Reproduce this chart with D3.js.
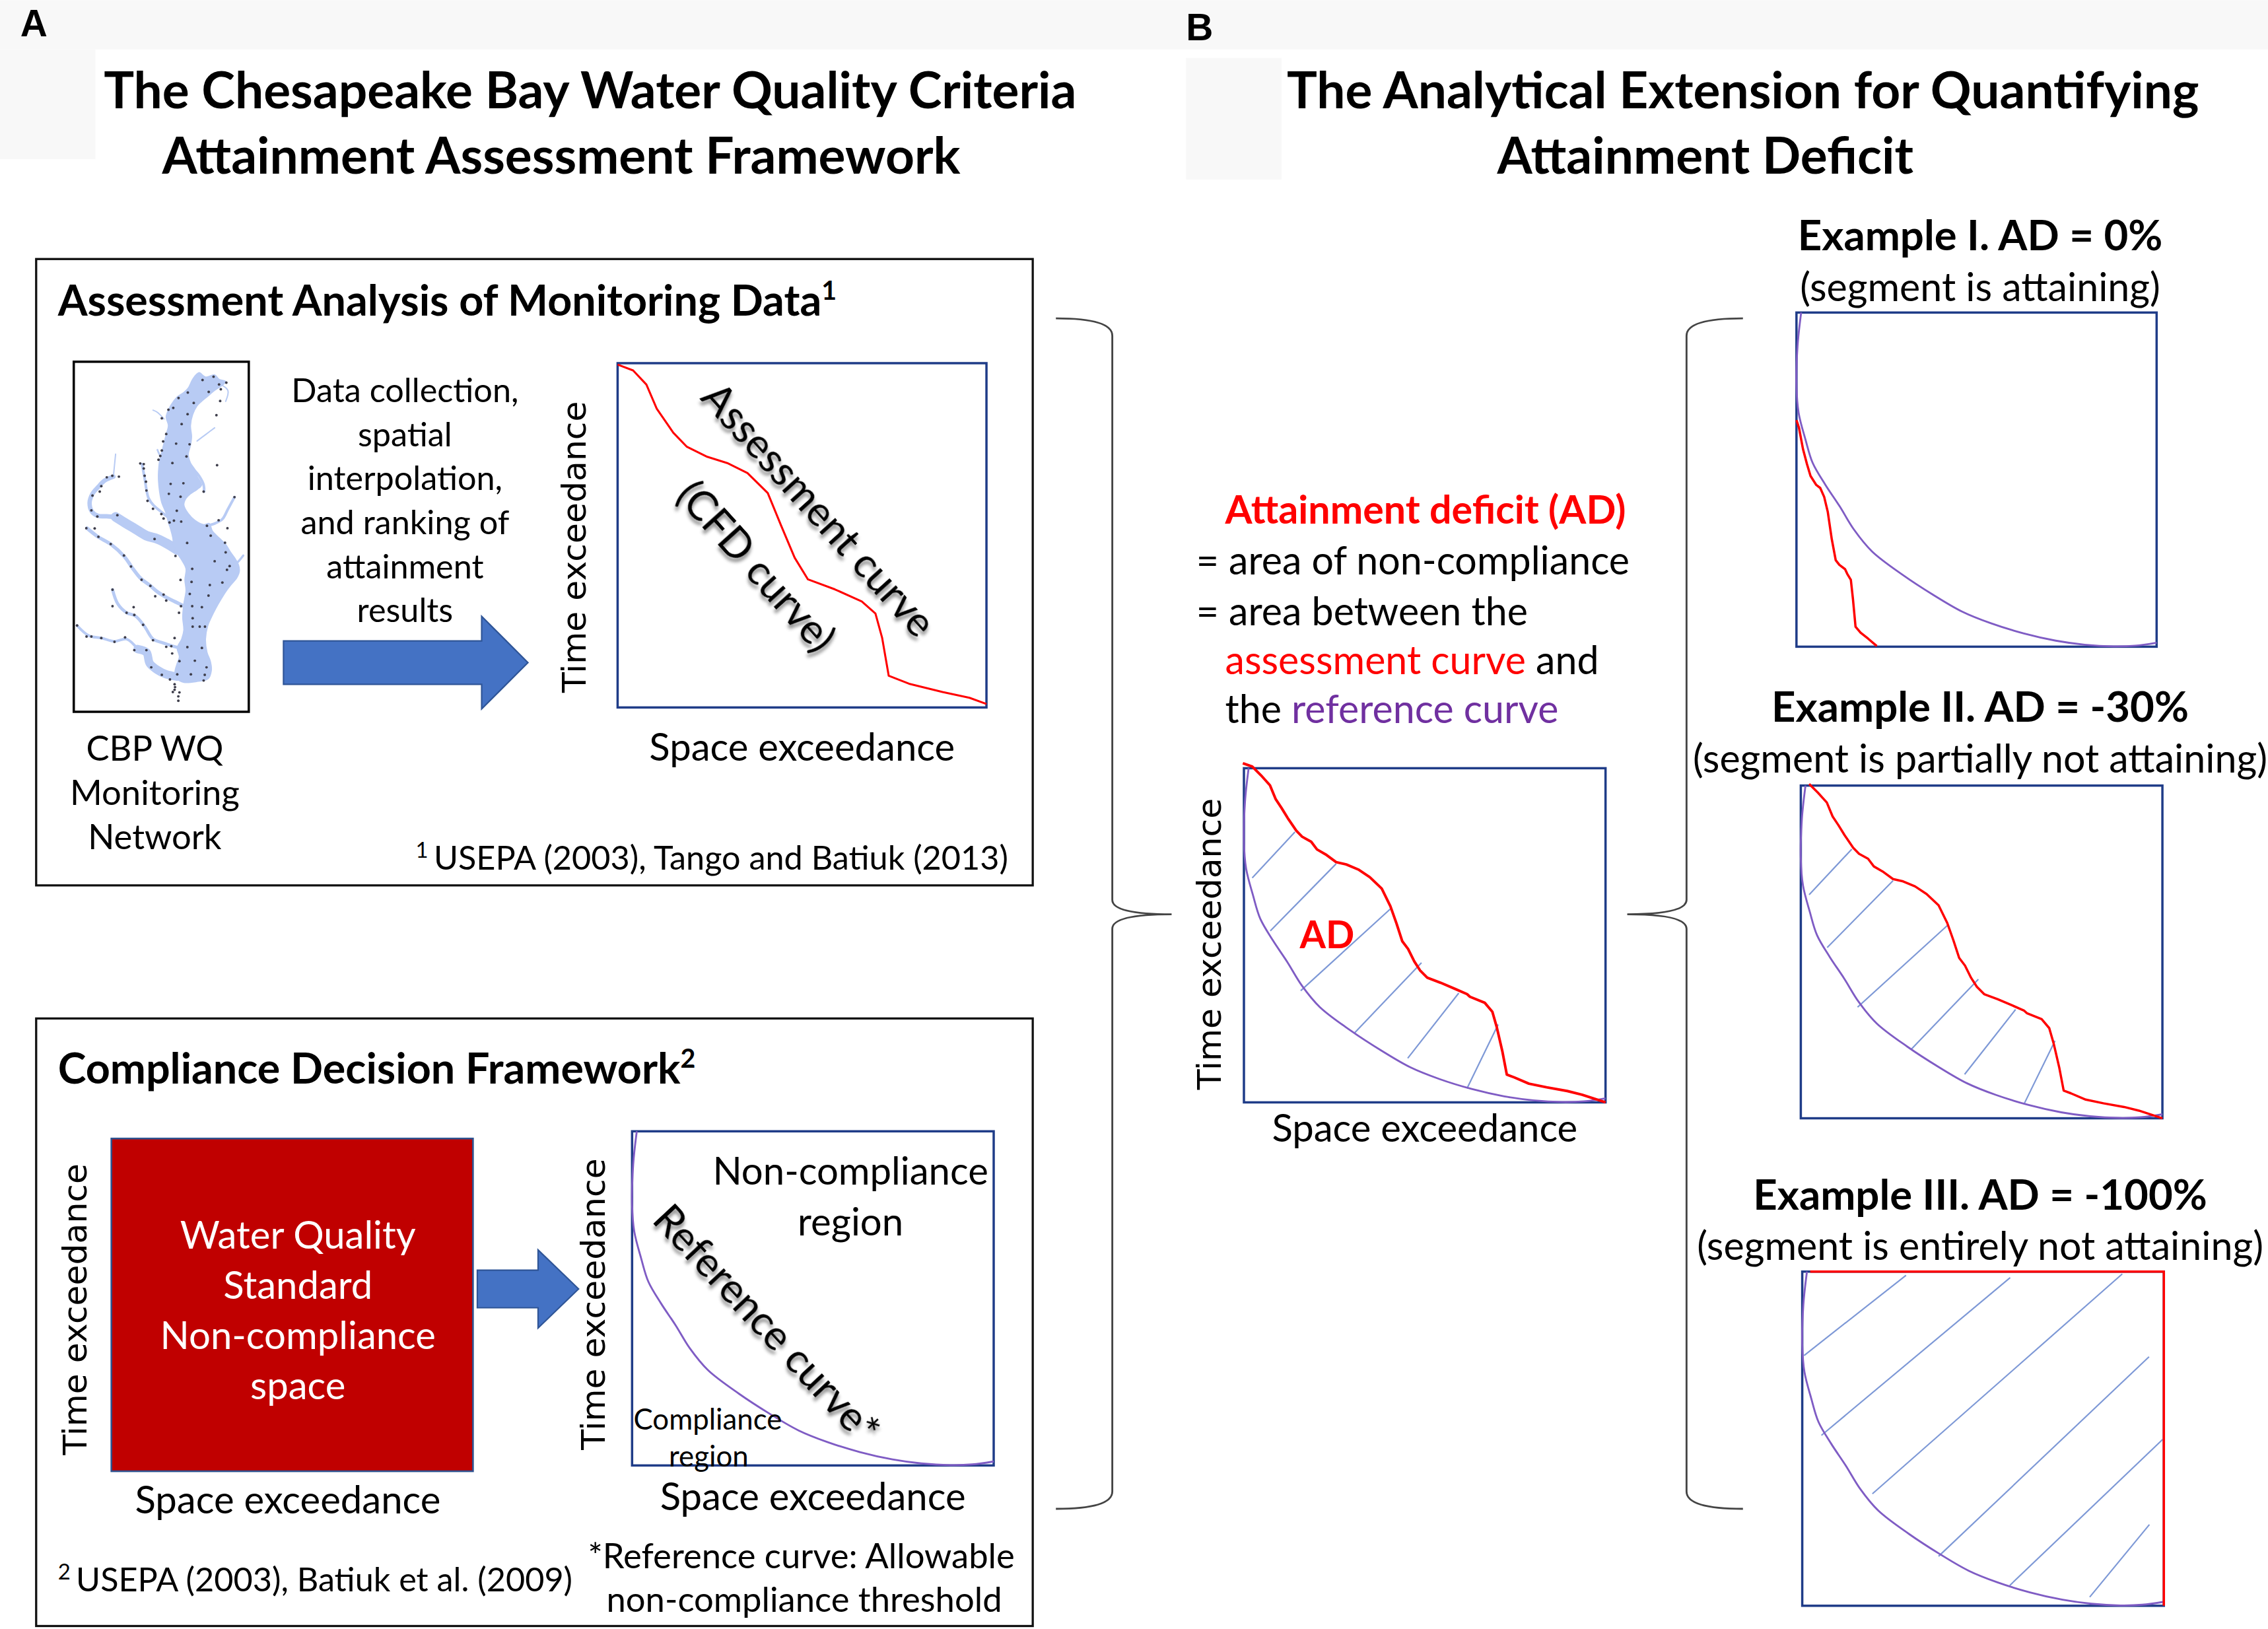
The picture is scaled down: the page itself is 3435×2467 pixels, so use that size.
<!DOCTYPE html>
<html>
<head>
<meta charset="utf-8">
<script src="https://cdn.jsdelivr.net/npm/d3@7"></script>
<style>
  body { margin: 0; background: #fff; }
  svg { display: block; }
  .cal { font-family: Lato, "Open Sans", sans-serif; }
  .axl { font-family: "DejaVu Sans", sans-serif; }
</style>
</head>
<body>
<script>
// ---- curve data (space exceedance %, time exceedance %) ----
const refSpace = [1.3, 0.3, 0, 0.6, 2.5, 4.5, 8, 12, 16, 21, 29.5, 38, 46, 54, 63, 72, 80, 88, 94, 100];
const refTime  = [100, 90, 78, 70, 62, 55, 48.5, 42, 35, 28.5, 21.5, 15.5, 10.5, 7, 4, 1.8, 0.6, 0.1, 0.3, 1.2];

const assessSpace = [0, 4.2, 7.8, 10.6, 15.1, 18.8, 24.3, 29.7, 35.2, 40.7, 44.3, 48, 51.6, 58.9, 66.2, 69.9, 71.7, 73.5, 79, 88.1, 95.4, 100];
const assessTime  = [99.6, 97.9, 93.8, 86.8, 79.8, 75.7, 72.8, 71, 68.1, 62.3, 52.9, 43.5, 37.2, 34.3, 30.8, 27.3, 20.3, 9.2, 6.9, 4.5, 2.8, 1];

const adSpace = [-0.3, 2.3, 4.7, 7.2, 8.8, 10.4, 12.1, 14.5, 16.1, 18.6, 20.2, 22.6, 25.5, 28.3, 31.6, 34.8, 38.1, 40.5, 42.2, 43.8, 45.4, 47.1, 48.7, 50.7, 54.4, 58.5, 61.7, 62.5, 66.6, 68.7, 69.9, 71.5, 72.7, 74.7, 78.8, 83.7, 89.4, 93.5, 100];
const adTime  = [101.5, 100.5, 97.9, 94.9, 90.7, 88.1, 85.1, 81.3, 79.5, 78, 75.7, 74.2, 71.9, 71.2, 69.7, 67.4, 64, 58.7, 53.5, 48.2, 45.9, 42.2, 39.5, 37.3, 35.8, 33.9, 32.4, 31.6, 29.8, 27.1, 22.6, 15.1, 8.3, 7.5, 5.6, 4.5, 3.4, 2.3, 0];

const ex1Space = [0, 0.7, 1.8, 2.9, 3.9, 5.5, 6.6, 7.7, 8.7, 9.8, 10.9, 11.9, 13.5, 14.1, 15.1, 15.7, 16.4, 17.8, 19.9, 22.3];
const ex1Time  = [67.8, 65.5, 59.2, 54.7, 51.1, 48.4, 47.5, 44.8, 40.3, 32.2, 25.9, 24.5, 23.2, 21.8, 20, 14.1, 6, 4.2, 2.4, 0.2];

const ex3Space = [2.2, 100, 100];
const ex3Time  = [100, 100, 0];

// hatch segments [space1, time1, space2, time2]
const hatchPartial = [[2.3, 67.2, 14.1, 80.9], [7.3, 51.3, 25.5, 71.4], [15.7, 33.4, 40.6, 58], [30.6, 20.8, 49.1, 41.8], [45.3, 13.2, 59.4, 32.7], [61.7, 4.2, 70.3, 23.3]];
const hatchFull = [[0.5, 74.9, 28.7, 98.9], [5.3, 51, 57.5, 98.2], [19.4, 33.5, 88.5, 99.3], [37.7, 14.8, 95.9, 74.5], [57.4, 6.1, 99.7, 49.8], [79.5, 2.6, 96, 24.3]];

// ---- monitoring network map (map units: 795 x 1590 sketch grid) ----
const bayOutline = [[570,50],[600,70],[640,60],[660,80],[690,90],[670,110],[640,130],[610,155],[580,180],[560,200],[540,240],[530,290],[535,340],[530,380],[520,420],[530,460],[550,490],[560,520],[580,560],[560,580],[530,600],[510,620],[500,650],[520,690],[550,720],[590,740],[615,735],[630,770],[660,800],[690,830],[712,865],[732,893],[748,922],[752,952],[740,982],[715,1012],[690,1045],[665,1085],[645,1120],[625,1160],[608,1200],[598,1260],[605,1320],[620,1360],[625,1400],[610,1440],[560,1452],[500,1456],[470,1440],[460,1410],[470,1370],[480,1340],[470,1300],[490,1260],[500,1220],[495,1160],[500,1100],[510,1040],[505,990],[510,940],[490,900],[470,870],[455,840],[450,800],[440,760],[430,730],[420,690],[400,640],[390,590],[385,540],[385,500],[390,450],[400,410],[410,370],[420,330],[430,290],[420,250],[440,200],[470,160],[500,140],[520,120],[540,80],[560,55]];
const rivers = [
  { w: 44, pts: [[470,855],[430,830],[380,805],[330,790],[280,760],[230,730],[190,705]] },
  { w: 20, pts: [[190,705],[150,702],[110,700],[82,680],[72,640],[85,600],[110,570],[140,540],[180,522]] },
  { w: 6,  pts: [[180,522],[185,470],[190,420]] },
  { w: 12, pts: [[450,725],[420,700],[395,680],[365,655],[340,620],[330,580],[322,530],[310,465]] },
  { w: 16, pts: [[500,1110],[460,1090],[420,1070],[380,1045],[345,1015],[305,985],[265,935],[230,885],[170,830],[110,795],[60,756]] },
  { w: 14, pts: [[480,1300],[445,1290],[400,1275],[360,1260],[320,1200],[280,1155],[240,1140],[200,1100],[176,1035]] },
  { w: 38, pts: [[470,1430],[420,1420],[380,1400],[345,1370],[330,1320],[290,1305]] },
  { w: 12, pts: [[290,1305],[240,1260],[185,1270],[125,1255],[70,1245],[15,1198]] },
  { w: 12, pts: [[545,490],[570,520],[590,560],[592,590]] },
  { w: 12, pts: [[620,790],[605,750],[640,735],[675,715],[700,670],[730,615]] },
  { w: 10, pts: [[720,930],[745,910],[770,880]] },
  { w: 6,  pts: [[660,100],[700,130],[690,180]] },
  { w: 8,  pts: [[420,450],[395,430],[380,400]] },
  { w: 6,  pts: [[410,260],[380,230],[360,220]] },
  { w: 6,  pts: [[560,360],[600,330],[640,300]] }
];
const stations = [[585,83],[635,68],[660,103],[693,95],[668,125],[665,178],[613,137],[518,140],[476,165],[545,187],[430,218],[452,210],[517,238],[400,257],[490,283],[648,243],[420,328],[406,362],[465,372],[526,375],[400,403],[512,430],[393,428],[385,445],[448,460],[651,470],[302,462],[318,465],[318,485],[322,518],[328,545],[330,585],[335,632],[360,668],[398,692],[408,712],[435,730],[455,722],[488,726],[440,555],[498,552],[432,600],[485,613],[590,590],[730,615],[468,677],[150,525],[175,518],[205,522],[125,565],[118,590],[85,608],[80,675],[107,703],[198,697],[367,805],[462,882],[515,823],[605,745],[658,720],[698,756],[622,790],[687,822],[690,866],[640,906],[538,941],[696,945],[708,928],[535,1000],[618,1014],[675,1003],[527,1055],[612,1062],[538,1110],[582,1115],[540,1165],[540,1203],[572,1203],[596,1203],[485,991],[478,1140],[57,756],[95,757],[112,795],[168,828],[228,880],[260,930],[308,990],[348,1018],[370,1065],[408,1058],[420,1085],[487,1110],[176,1035],[176,1110],[240,1140],[272,1115],[275,1150],[315,1195],[360,1265],[420,1295],[443,1292],[447,1325],[458,1255],[15,1198],[58,1248],[80,1248],[125,1255],[185,1272],[233,1252],[275,1310],[330,1310],[352,1388],[400,1422],[437,1443],[470,1420],[480,1360],[516,1296],[582,1300],[550,1358],[603,1388],[532,1420],[595,1422],[590,1448],[458,1465],[460,1478],[458,1490],[450,1500],[480,1502],[475,1520],[475,1540]];

// ---- text ----
const titleA = ["The Chesapeake Bay Water Quality Criteria", "Attainment Assessment Framework"];
const titleB = ["The Analytical Extension for Quantifying", "Attainment Deficit"];
const stepText = ["Data collection,", "spatial", "interpolation,", "and ranking of", "attainment", "results"];
const networkText = ["CBP WQ", "Monitoring", "Network"];
const standardText = ["Water Quality", "Standard", "Non-compliance", "space"];
const examples = [
  { title: "Example I. AD = 0%", sub: "(segment is attaining)" },
  { title: "Example II. AD = -30%", sub: "(segment is partially not attaining)" },
  { title: "Example III. AD = -100%", sub: "(segment is entirely not attaining)" }
];

const W = 1568, H = 1126;
const NAVY = "#1f3c88", RED = "#ff0000", PURPLE = "#7f5cc4", HATCH = "#7d98d6", ARROW = "#4472c4";
const BAY = "#b8cbf4";

const svg = d3.select("body").append("svg")
  .attr("width", 3435).attr("height", 2467)
  .attr("viewBox", `0 0 ${W} ${H}`);

const defs = svg.append("defs");
defs.append("filter").attr("id", "shadow")
  .attr("x", "-20%").attr("y", "-20%").attr("width", "140%").attr("height", "140%")
  .append("feDropShadow")
  .attr("dx", 2).attr("dy", 2).attr("stdDeviation", 1.3)
  .attr("flood-color", "#000").attr("flood-opacity", 0.45);

// background greys behind panel labels / titles
svg.append("rect").attr("x", 0).attr("y", 0).attr("width", W).attr("height", 34).attr("fill", "#f8f8f8");
svg.append("rect").attr("x", 0).attr("y", 34).attr("width", 66).attr("height", 76).attr("fill", "#f8f8f8");
svg.append("rect").attr("x", 820).attr("y", 40).attr("width", 66).attr("height", 84).attr("fill", "#f8f8f8");

function text(x, y, str, o = {}) {
  return svg.append("text")
    .attr("class", o.cls || "cal")
    .attr("x", x).attr("y", y)
    .attr("font-size", o.size || 23)
    .attr("font-weight", o.bold ? "bold" : null)
    .attr("text-anchor", o.anchor || "start")
    .attr("fill", o.fill || "#000")
    .text(str);
}

function lines(x, y0, step, arr, o) {
  arr.forEach((s, i) => text(x, y0 + i * step, s, o));
}

// panel letters and titles
svg.append("text").attr("x", 14).attr("y", 25).attr("font-family", "Liberation Sans, Arial, sans-serif")
  .attr("font-weight", "bold").attr("font-size", 26).text("A");
svg.append("text").attr("x", 820).attr("y", 28).attr("font-family", "Liberation Sans, Arial, sans-serif")
  .attr("font-weight", "bold").attr("font-size", 26).text("B");

text(408, 75, titleA[0], { size: 35, bold: true, anchor: "middle" });
text(388, 120, titleA[1], { size: 35, bold: true, anchor: "middle" });
text(1205, 75, titleB[0], { size: 35, bold: true, anchor: "middle" });
text(1179, 120, titleB[1], { size: 35, bold: true, anchor: "middle" });

// heading with superscript
function heading(x, y, str, sup) {
  const t = text(x, y, str, { size: 29.5, bold: true });
  t.append("tspan").attr("dy", -11).attr("font-size", 18).text(sup);
}

// ---- generic exceedance plot ----
function drawPlot(box, o) {
  const x = d3.scaleLinear().domain([0, 100]).range([box.x, box.x + box.w]);
  const y = d3.scaleLinear().domain([0, 100]).range([box.y + box.h, box.y]);
  const g = svg.append("g");

  g.append("rect")
    .attr("x", box.x).attr("y", box.y).attr("width", box.w).attr("height", box.h)
    .attr("fill", "#fff").attr("stroke", NAVY).attr("stroke-width", 1.6);

  if (o.hatch) {
    g.selectAll(".hatch").data(o.hatch).join("line")
      .attr("class", "hatch")
      .attr("x1", d => x(d[0])).attr("y1", d => y(d[1]))
      .attr("x2", d => x(d[2])).attr("y2", d => y(d[3]))
      .attr("stroke", HATCH).attr("stroke-width", 1);
  }
  if (o.ref) {
    g.append("path")
      .attr("d", d3.line().x(d => x(d[0])).y(d => y(d[1])).curve(d3.curveCatmullRom)(d3.zip(refSpace, refTime)))
      .attr("fill", "none").attr("stroke", PURPLE).attr("stroke-width", 1.3);
  }
  if (o.red) {
    g.append("path")
      .attr("d", d3.line().x(d => x(d[0])).y(d => y(d[1]))(d3.zip(o.red[0], o.red[1])))
      .attr("fill", "none").attr("stroke", RED).attr("stroke-width", o.redWidth || 1.6)
      .attr("stroke-linejoin", "round");
  }
  if (o.yLabel) {
    svg.append("text").attr("class", "axl")
      .attr("transform", `translate(${box.x - o.yLabel.dx},${box.y + box.h / 2 + (o.yLabel.dy || 0)}) rotate(-90)`)
      .attr("text-anchor", "middle").attr("font-size", 23)
      .text("Time exceedance");
  }
  if (o.xLabel) {
    text(box.x + box.w / 2, box.y + box.h + o.xLabel.dy, "Space exceedance", { size: 26.5, anchor: "middle" });
  }
  return { x, y, g };
}

function curvedLabel(cx, cy, angle, str, size) {
  svg.append("text").attr("class", "cal")
    .attr("transform", `translate(${cx},${cy}) rotate(${angle})`)
    .attr("text-anchor", "middle").attr("dominant-baseline", "middle")
    .attr("font-size", size).attr("filter", "url(#shadow)")
    .text(str);
}

function blockArrow(x0, x1, xt, yMid, bodyH, headH) {
  const pts = [[x0, yMid - bodyH / 2], [x1, yMid - bodyH / 2], [x1, yMid - headH / 2], [xt, yMid],
               [x1, yMid + headH / 2], [x1, yMid + bodyH / 2], [x0, yMid + bodyH / 2]];
  svg.append("path").attr("d", d3.line()(pts) + "Z")
    .attr("fill", ARROW).attr("stroke", "#2f5597").attr("stroke-width", 1);
}

// ================= Panel A, top box =================
svg.append("rect").attr("x", 25).attr("y", 179).attr("width", 689).attr("height", 433)
  .attr("fill", "none").attr("stroke", "#111").attr("stroke-width", 1.5);
heading(40, 218, "Assessment Analysis of Monitoring Data", "1");

// map
const mapBox = { x: 51, y: 250, w: 121, h: 242 };
const mx = d3.scaleLinear().domain([0, 795]).range([mapBox.x, mapBox.x + mapBox.w]);
const my = d3.scaleLinear().domain([0, 1590]).range([mapBox.y, mapBox.y + mapBox.h]);
const mapLine = d3.line().x(d => mx(d[0])).y(d => my(d[1])).curve(d3.curveCatmullRom);
svg.append("rect").attr("x", mapBox.x).attr("y", mapBox.y).attr("width", mapBox.w).attr("height", mapBox.h)
  .attr("fill", "#fff").attr("stroke", "#000").attr("stroke-width", 1.6);
const mapG = svg.append("g");
mapG.selectAll(".river").data(rivers).join("path")
  .attr("d", d => mapLine(d.pts))
  .attr("fill", "none").attr("stroke", BAY)
  .attr("stroke-width", d => d.w * mapBox.w / 795)
  .attr("stroke-linecap", "round").attr("stroke-linejoin", "round");
mapG.append("path").attr("d", d3.line().x(d => mx(d[0])).y(d => my(d[1])).curve(d3.curveCatmullRomClosed)(bayOutline))
  .attr("fill", BAY).attr("stroke", BAY).attr("stroke-width", 0.8);
mapG.selectAll(".station").data(stations).join("circle")
  .attr("cx", d => mx(d[0])).attr("cy", d => my(d[1])).attr("r", 0.9)
  .attr("fill", "#3d3d4a");

lines(107, 526, 30.5, networkText, { size: 24, anchor: "middle" });
lines(280, 278, 30.4, stepText, { size: 23, anchor: "middle" });
blockArrow(196, 333, 365, 458, 30, 64);

drawPlot({ x: 427, y: 251, w: 255, h: 238 }, {
  red: [assessSpace, assessTime], redWidth: 1.4,
  yLabel: { dx: 22, dy: 8 }, xLabel: { dy: 37 }
});
curvedLabel(564, 354, 48, "Assessment curve", 28.5);
curvedLabel(521, 393, 48, "(CFD curve)", 28.5);

const fn1 = text(697, 601, "", { size: 23, anchor: "end" });
fn1.append("tspan").attr("dy", -8).attr("font-size", 15).text("1 ");
fn1.append("tspan").attr("dy", 8).text("USEPA (2003), Tango and Batiuk (2013)");

// ================= Panel A, bottom box =================
svg.append("rect").attr("x", 25).attr("y", 704).attr("width", 689).attr("height", 420)
  .attr("fill", "none").attr("stroke", "#111").attr("stroke-width", 1.5);
heading(40, 749, "Compliance Decision Framework", "2");

svg.append("rect").attr("x", 77).attr("y", 787).attr("width", 250).attr("height", 230)
  .attr("fill", "#c00000").attr("stroke", "#2f528f").attr("stroke-width", 1.2);
lines(206, 863, 34.8, standardText, { size: 26.5, anchor: "middle", fill: "#fff" });
svg.append("text").attr("class", "axl")
  .attr("transform", `translate(60,${787 + 118}) rotate(-90)`)
  .attr("text-anchor", "middle").attr("font-size", 23).text("Time exceedance");
text(199, 1046, "Space exceedance", { size: 26.5, anchor: "middle" });

blockArrow(330, 372, 400, 891, 26, 54);

drawPlot({ x: 437, y: 782, w: 250, h: 231 }, {
  ref: true, yLabel: { dx: 19, dy: 4 }, xLabel: { dy: 31 }
});
text(588, 819, "Non-compliance", { size: 26.5, anchor: "middle" });
text(588, 854, "region", { size: 26.5, anchor: "middle" });
text(438, 988, "Compliance", { size: 20 });
text(490, 1014, "region", { size: 20, anchor: "middle" });
curvedLabel(528, 917, 47, "Reference curve*", 28.5);

const fn2 = text(40, 1100, "", { size: 23 });
fn2.append("tspan").attr("dy", -8).attr("font-size", 15).text("2 ");
fn2.append("tspan").attr("dy", 8).text("USEPA (2003), Batiuk et al. (2009)");
text(554, 1084, "*Reference curve: Allowable", { size: 24, anchor: "middle" });
text(556, 1114, "non-compliance threshold", { size: 24, anchor: "middle" });

// ================= braces =================
function brace(xEdge, xLine, xTip, yTop, yMid, yBot) {
  const p = d3.path();
  p.moveTo(xEdge, yTop);
  p.quadraticCurveTo(xLine, yTop, xLine, yTop + 12);
  p.lineTo(xLine, yMid - 10);
  p.quadraticCurveTo(xLine, yMid, xTip, yMid);
  p.quadraticCurveTo(xLine, yMid, xLine, yMid + 10);
  p.lineTo(xLine, yBot - 12);
  p.quadraticCurveTo(xLine, yBot, xEdge, yBot);
  svg.append("path").attr("d", p.toString())
    .attr("fill", "none").attr("stroke", "#444").attr("stroke-width", 1.3);
}
brace(730, 769, 810, 220, 632, 1043);
brace(1205, 1166, 1125, 220, 632, 1043);

// ================= Panel B, definition =================
text(847, 362, "Attainment deficit (AD)", { size: 27, bold: true, fill: RED });
text(827, 397, "= area of non-compliance", { size: 27 });
text(827, 432, "= area between the", { size: 27 });
const l4 = text(847, 466, "", { size: 27 });
l4.append("tspan").attr("fill", RED).text("assessment curve");
l4.append("tspan").text(" and");
const l5 = text(847, 500, "", { size: 27 });
l5.append("tspan").text("the ");
l5.append("tspan").attr("fill", "#7030a0").text("reference curve");

const adPlot = drawPlot({ x: 860, y: 531, w: 250, h: 231 }, {
  hatch: hatchPartial, ref: true, red: [adSpace, adTime], redWidth: 1.8,
  yLabel: { dx: 16, dy: 6 }, xLabel: { dy: 27 }
});
text(adPlot.x(23), adPlot.y(50), "AD", { size: 26, bold: true, anchor: "middle", fill: RED })
  .attr("dy", "0.35em");

// ================= Panel B, examples =================
const exBoxes = [
  { x: 1242, y: 216, w: 249, h: 231, ty: 173 },
  { x: 1245, y: 543, w: 250, h: 230, ty: 499 },
  { x: 1246, y: 879, w: 250, h: 231, ty: 836 }
];
const exOpts = [
  { ref: true, red: [ex1Space, ex1Time] },
  { ref: true, hatch: hatchPartial, red: [adSpace.slice(1), adTime.slice(1)] },
  { ref: true, hatch: hatchFull, red: [ex3Space, ex3Time] }
];
examples.forEach((e, i) => {
  const b = exBoxes[i];
  text(1369, b.ty, e.title, { size: 29, bold: true, anchor: "middle" });
  text(1369, b.ty + 35, e.sub, { size: 27, anchor: "middle" });
  drawPlot(b, Object.assign({ redWidth: 1.6 }, exOpts[i]));
});
</script>
</body>
</html>
